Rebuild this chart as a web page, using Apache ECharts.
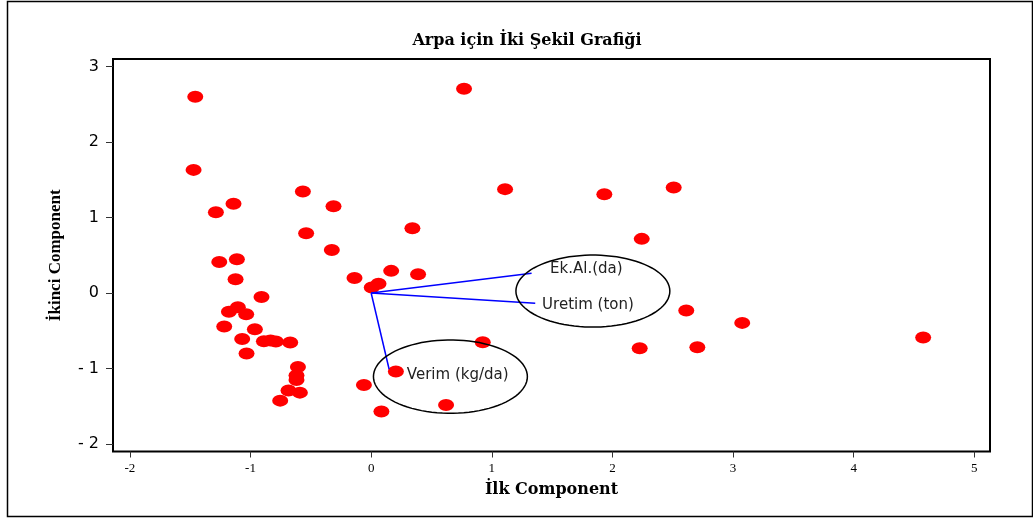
<!DOCTYPE html>
<html><head><meta charset="utf-8">
<script src="https://cdn.jsdelivr.net/npm/echarts@6/dist/echarts.min.js"></script>
<style>html,body{margin:0;padding:0;background:#fff}#c{width:1033px;height:520px}</style>
</head><body><div id="c"></div>
<script>
const titleText = 'Arpa için İki Şekil Grafiği';
const xName = 'İlk Component';
const yName = 'İkinci Component';
const xTicks = [-2, -1, 0, 1, 2, 3, 4, 5];
const yTicks = [-2, -1, 0, 1, 2, 3];
const pointsX = [-1.458, 0.770, -1.472, -0.566, -1.141, -1.287, -0.312, -0.539, -0.326, 0.342,
  1.110, 1.933, 2.508, 2.243, -1.259, -1.113, -1.124, -0.138, 0.166, 0.389,
  0.061, 0.005, -0.909, -1.105, -1.179, -1.036, -1.218, -0.964, -1.069, -0.889,
  -0.834, -0.790, -0.671, -1.033, -0.607, -0.619, -0.619, -0.685, -0.591, -0.754,
  0.205, -0.060, 0.085, 0.621, 0.925, 2.226, 2.704, 2.612, 3.076, 4.576];
const pointsY = [2.599, 2.705, 1.631, 1.344, 1.181, 1.071, 1.150, 0.792, 0.571, 0.859,
  1.376, 1.309, 1.397, 0.717, 0.412, 0.448, 0.183, 0.200, 0.293, 0.249,
  0.121, 0.072, -0.052, -0.190, -0.250, -0.283, -0.445, -0.480, -0.608, -0.640,
  -0.628, -0.643, -0.657, -0.803, -0.979, -1.093, -1.152, -1.293, -1.320, -1.426,
  -1.041, -1.218, -1.571, -1.483, -0.652, -0.732, -0.718, -0.233, -0.396, -0.591];
const vectorNames = ['Ek.Al.(da)', 'Uretim (ton)', 'Verim (kg/da)'];
const vectorEnds = [[1.33, 0.26], [1.36, -0.135], [0.149, -1.01]];
const labelPos = [[1.483, 0.32], [1.417, -0.167], [0.296, -1.085]];
// ellipse annotations: centre x, centre y, radius x, radius y (data units)
const ellipses = [[1.838, 0.025, 0.638, 0.477], [0.657, -1.108, 0.638, 0.486]];

const chart = echarts.init(document.getElementById('c'), null, {renderer: 'canvas'});
const serif = '"Liberation Serif", "Times New Roman", serif';
const wideSerif = '"DejaVu Serif", "Liberation Serif", serif';
chart.setOption({
  backgroundColor: '#fff',
  animation: false,
  title: {
    text: titleText, left: 522, top: 28, textAlign: 'center',
    textStyle: {fontFamily: wideSerif, fontWeight: 'bold', fontSize: 16, color: '#000'}
  },
  graphic: [{
    type: 'rect', shape: {x: 7.5, y: 1.5, width: 1025, height: 515},
    style: {fill: 'none', stroke: '#000', lineWidth: 1.5}, silent: true
  }],
  grid: {left: 113, top: 59, right: 43, bottom: 68.5, show: true, borderColor: '#000', borderWidth: 2,
    backgroundColor: 'transparent', containLabel: false, outerBoundsMode: 'none'},
  xAxis: {
    type: 'value', min: -2.14, max: 5.13,
    name: xName, nameLocation: 'middle', nameGap: 30,
    nameTextStyle: {fontFamily: wideSerif, fontWeight: 'bold', fontSize: 16, color: '#000'},
    axisLine: {show: false, onZero: false}, splitLine: {show: false},
    axisTick: {show: true, length: 6, customValues: xTicks, lineStyle: {color: '#333', width: 1}},
    axisLabel: {customValues: xTicks, margin: 11, fontFamily: serif, fontSize: 13, color: '#000',
      formatter: v => String(v)}
  },
  yAxis: {
    type: 'value', min: -2.1, max: 3.1,
    name: yName, nameLocation: 'middle', nameGap: 49,
    nameTextStyle: {fontFamily: serif, fontWeight: 'bold', fontSize: 17, color: '#000'},
    axisLine: {show: false, onZero: false}, splitLine: {show: false},
    axisTick: {show: true, length: 7, customValues: yTicks, lineStyle: {color: '#333', width: 1}},
    axisLabel: {customValues: yTicks, margin: 14, fontFamily: '"DejaVu Sans", Verdana, sans-serif',
      fontSize: 16, color: '#000', formatter: v => (v < 0 ? '- ' + (-v) : String(v))}
  },
  series: [
    {
      type: 'scatter', symbol: 'circle', symbolSize: [16, 12],
      itemStyle: {color: '#ff0000', opacity: 1},
      data: pointsX.map((x, i) => [x, pointsY[i]]), z: 2
    },
    {
      type: 'lines', coordinateSystem: 'cartesian2d', z: 3,
      lineStyle: {color: '#0000ff', width: 1.5, opacity: 1},
      data: vectorEnds.map(e => ({coords: [[0, 0], e]}))
    },
    {
      type: 'custom', z: 4, silent: true,
      data: ellipses,
      renderItem: (params, api) => {
        const cx = api.value(0), cy = api.value(1), rx = api.value(2), ry = api.value(3);
        const pts = [];
        for (let k = 0; k < 90; k++) {
          const a = k / 90 * Math.PI * 2;
          pts.push(api.coord([cx + rx * Math.cos(a), cy + ry * Math.sin(a)]));
        }
        return {type: 'polygon', shape: {points: pts},
          style: {fill: 'none', stroke: '#000', lineWidth: 1.5}};
      }
    },
    {
      type: 'custom', z: 5, silent: true,
      data: labelPos.map((p, i) => [p[0], p[1], i]),
      renderItem: (params, api) => {
        const c = api.coord([api.value(0), api.value(1)]);
        return {type: 'text', x: c[0], y: c[1],
          style: {text: vectorNames[api.value(2)], fill: '#222',
            font: '15px "DejaVu Sans", sans-serif', align: 'left', verticalAlign: 'middle'}};
      }
    }
  ]
});
</script></body></html>
